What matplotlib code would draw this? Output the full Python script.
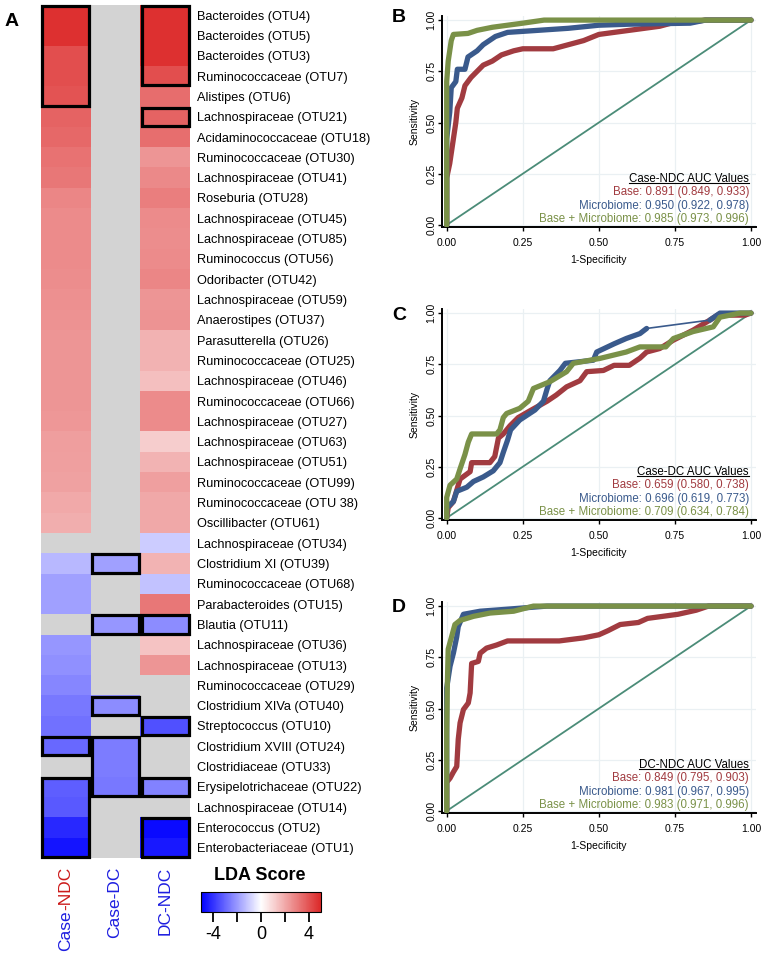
import numpy as np
import matplotlib
matplotlib.use('Agg')
import matplotlib.pyplot as plt
from matplotlib.colors import LinearSegmentedColormap
from matplotlib.patches import Rectangle
from matplotlib.lines import Line2D

plt.rcParams['font.family'] = ['Liberation Sans', 'DejaVu Sans']

W, H = 767, 956

# ---------------- heatmap data ----------------
taxa = ['Bacteroides (OTU4)', 'Bacteroides (OTU5)', 'Bacteroides (OTU3)', 'Ruminococcaceae (OTU7)',
        'Alistipes (OTU6)', 'Lachnospiraceae (OTU21)', 'Acidaminococcaceae (OTU18)',
        'Ruminococcaceae (OTU30)', 'Lachnospiraceae (OTU41)', 'Roseburia (OTU28)',
        'Lachnospiraceae (OTU45)', 'Lachnospiraceae (OTU85)', 'Ruminococcus (OTU56)',
        'Odoribacter (OTU42)', 'Lachnospiraceae (OTU59)', 'Anaerostipes (OTU37)',
        'Parasutterella (OTU26)', 'Ruminococcaceae (OTU25)', 'Lachnospiraceae (OTU46)',
        'Ruminococcaceae (OTU66)', 'Lachnospiraceae (OTU27)', 'Lachnospiraceae (OTU63)',
        'Lachnospiraceae (OTU51)', 'Ruminococcaceae (OTU99)', 'Ruminococcaceae (OTU 38)',
        'Oscillibacter (OTU61)', 'Lachnospiraceae (OTU34)', 'Clostridium XI (OTU39)',
        'Ruminococcaceae (OTU68)', 'Parabacteroides (OTU15)', 'Blautia (OTU11)',
        'Lachnospiraceae (OTU36)', 'Lachnospiraceae (OTU13)', 'Ruminococcaceae (OTU29)',
        'Clostridium XIVa (OTU40)', 'Streptococcus (OTU10)', 'Clostridium XVIII (OTU24)',
        'Clostridiaceae (OTU33)', 'Erysipelotrichaceae (OTU22)', 'Lachnospiraceae (OTU14)',
        'Enterococcus (OTU2)', 'Enterobacteriaceae (OTU1)']

nan = np.nan
lda_case_ndc = [4.77, 4.77, 4.07, 4.07, 3.95, 3.6, 3.5, 3.26, 3.14, 2.8, 2.67, 2.67, 2.67, 2.63,
                2.56, 2.5, 2.45, 2.45, 2.45, 2.45, 2.4, 2.26, 2.22, 2.18, 1.98, 1.86, nan,
                -1.37, -1.86, -1.86, nan, -2.06, -2.16, -2.35, -2.65, -2.75, -2.94, nan,
                -3.14, -3.24, -4.2, -4.6]
lda_case_dc = [nan] * 27 + [-1.86, nan, nan, -2.06, nan, nan, nan, -2.25, nan,
                            -2.55, -2.55, -2.65, nan, nan, nan]
lda_dc_ndc = [4.8, 4.8, 4.8, 4.07, 3.37, 3.6, 3.33, 2.44, 2.72, 3.0, 2.67, 2.63, 2.67, 2.79,
              2.44, 2.49, 1.79, 1.79, 1.47, 2.67, 2.67, 1.16, 1.74, 2.2, 2.02, 2.02, -0.98,
              1.74, -1.18, 3.14, -2.25, 1.4, 2.44, nan, nan, -3.43, nan, nan, -2.45, nan,
              -4.8, -4.5]

# highlighted cells: (column, first row, number of rows)
boxes = [(0, 0, 5), (0, 36, 1), (0, 38, 4),
         (1, 27, 1), (1, 30, 1), (1, 34, 1), (1, 36, 3),
         (2, 0, 4), (2, 5, 1), (2, 30, 1), (2, 35, 1), (2, 38, 1), (2, 40, 2)]

# ---------------- ROC data (fpr, tpr) ----------------
b_base = [(0, 0), (0, 0.23), (0.01, 0.3), (0.02, 0.4), (0.03, 0.5), (0.035, 0.57), (0.05, 0.62),
          (0.06, 0.68), (0.08, 0.72), (0.1, 0.75), (0.12, 0.78), (0.15, 0.8), (0.18, 0.83),
          (0.22, 0.85), (0.25, 0.86), (0.35, 0.86), (0.4, 0.88), (0.45, 0.9), (0.5, 0.93),
          (0.6, 0.95), (0.7, 0.97), (0.75, 0.99), (0.8, 0.99), (0.85, 1.0), (1, 1)]
b_micro = [(0, 0), (0, 0.42), (0.01, 0.55), (0.015, 0.67), (0.03, 0.7), (0.035, 0.76),
           (0.06, 0.76), (0.07, 0.82), (0.1, 0.85), (0.12, 0.88), (0.14, 0.9), (0.16, 0.92),
           (0.2, 0.94), (0.3, 0.95), (0.4, 0.96), (0.5, 0.975), (0.6, 0.98), (0.8, 0.985),
           (0.85, 1.0), (1, 1)]
b_both = [(0, 0), (0, 0.7), (0.005, 0.8), (0.01, 0.85), (0.015, 0.9), (0.022, 0.93),
          (0.07, 0.935), (0.1, 0.95), (0.15, 0.965), (0.2, 0.975), (0.25, 0.985),
          (0.32, 1.0), (1, 1)]

c_base = [(0, 0), (0.005, 0.05), (0.022, 0.08), (0.044, 0.19), (0.077, 0.226), (0.082, 0.27),
          (0.142, 0.27), (0.158, 0.3), (0.17, 0.39), (0.186, 0.41), (0.208, 0.45),
          (0.235, 0.49), (0.27, 0.52), (0.33, 0.57), (0.36, 0.6), (0.394, 0.64), (0.438, 0.67),
          (0.46, 0.714), (0.515, 0.72), (0.55, 0.745), (0.6, 0.745), (0.635, 0.78),
          (0.657, 0.81), (0.7, 0.827), (0.745, 0.868), (0.81, 0.917), (0.865, 0.966),
          (0.89, 0.99), (0.98, 0.99), (1, 1)]
c_micro = [(0, 0), (0, 0.05), (0.022, 0.08), (0.033, 0.13), (0.066, 0.15), (0.088, 0.178),
           (0.12, 0.2), (0.153, 0.23), (0.175, 0.27), (0.186, 0.32), (0.2, 0.38), (0.21, 0.43),
           (0.24, 0.478), (0.29, 0.527), (0.318, 0.57), (0.33, 0.63), (0.339, 0.67),
           (0.372, 0.72), (0.39, 0.755), (0.482, 0.77), (0.493, 0.81), (0.55, 0.85),
           (0.59, 0.876), (0.635, 0.9), (0.657, 0.925), (0.865, 0.966), (0.898, 1.0), (1, 1)]
c_both = [(0, 0), (0, 0.1), (0.011, 0.16), (0.033, 0.19), (0.044, 0.24), (0.06, 0.31),
          (0.071, 0.37), (0.082, 0.41), (0.164, 0.41), (0.175, 0.43), (0.186, 0.49),
          (0.197, 0.51), (0.24, 0.535), (0.268, 0.57), (0.285, 0.632), (0.339, 0.665),
          (0.394, 0.714), (0.416, 0.755), (0.504, 0.779), (0.59, 0.81), (0.635, 0.835),
          (0.72, 0.835), (0.745, 0.876), (0.81, 0.91), (0.876, 0.933), (0.898, 0.98),
          (0.964, 1.0), (1, 1)]

d_base = [(0, 0), (0, 0.14), (0.011, 0.16), (0.022, 0.19), (0.033, 0.217), (0.038, 0.35),
          (0.044, 0.43), (0.055, 0.495), (0.071, 0.527), (0.077, 0.576), (0.082, 0.72),
          (0.104, 0.73), (0.11, 0.77), (0.131, 0.795), (0.164, 0.81), (0.2, 0.83),
          (0.37, 0.83), (0.45, 0.845), (0.5, 0.86), (0.53, 0.88), (0.57, 0.91), (0.63, 0.92),
          (0.66, 0.94), (0.76, 0.96), (0.82, 0.98), (0.86, 1.0), (1, 1)]
d_micro = [(0, 0), (0, 0.6), (0.011, 0.706), (0.022, 0.77), (0.033, 0.85), (0.038, 0.9),
           (0.055, 0.96), (0.11, 0.975), (0.2, 0.985), (0.33, 1.0), (1, 1)]
d_both = [(0, 0), (0, 0.38), (0.002, 0.61), (0.005, 0.79), (0.016, 0.85), (0.027, 0.91),
          (0.044, 0.93), (0.088, 0.95), (0.142, 0.966), (0.22, 0.975), (0.285, 1.0), (1, 1)]

# segments with no ROC points between them (drawn as a thin connector): curve -> segment index
c_micro_thin = [24]

auc_b = ['Base: 0.891 (0.849, 0.933)', 'Microbiome: 0.950 (0.922, 0.978)',
         'Base + Microbiome: 0.985 (0.973, 0.996)']
auc_c = ['Base: 0.659 (0.580, 0.738)', 'Microbiome: 0.696 (0.619, 0.773)',
         'Base + Microbiome: 0.709 (0.634, 0.784)']
auc_d = ['Base: 0.849 (0.795, 0.903)', 'Microbiome: 0.981 (0.967, 0.995)',
         'Base + Microbiome: 0.983 (0.971, 0.996)']

roc_colors = ['#A13B40', '#3A5A8C', '#7A9148']
diag_color = '#4B8C78'
txt_red = '#CC1A1A'
txt_blue = '#1E1EE0'


fig = plt.figure(figsize=(W / 100, H / 100), dpi=100)


def px_axes(x0, y0, x1, y1):
    return fig.add_axes([x0 / W, 1 - y1 / H, (x1 - x0) / W, (y1 - y0) / H])


# ---------------- panel A ----------------
cmap = LinearSegmentedColormap.from_list('lda', [(0, '#0000FF'), (0.5, '#FFFFFF'), (1, '#DC2828')])
cmap.set_bad('#D3D3D3')
grid = np.ma.masked_invalid(np.column_stack([lda_case_ndc, lda_case_dc, lda_dc_ndc]))

ax = px_axes(41, 5, 190, 858)
im = ax.imshow(grid, aspect='auto', cmap=cmap, vmin=-5, vmax=5, interpolation='nearest')
for col, r0, n in boxes:
    ax.add_patch(Rectangle((col - 0.5 + 0.03, r0 - 0.5 + 0.05), 0.94, n - 0.1, fill=False,
                           edgecolor='black', lw=2.3, clip_on=False, zorder=3))
ax.set_xticks([])
ax.set_yticks(range(len(taxa)))
ax.set_yticklabels(taxa, fontsize=9.2)
ax.yaxis.tick_right()
ax.tick_params(axis='y', length=0, pad=5)
for s in ax.spines.values():
    s.set_visible(False)

fig.text(12 / W, 1 - 22 / H, 'A', fontsize=14, weight='bold', ha='center', va='center')

# column labels (rotated, two colours)
col_x = [65.5, 115, 165]
top_lab = fig.text(col_x[0] / W, 1 - 867 / H, '-NDC', rotation=90, ha='center', va='top',
                   color=txt_red, fontsize=12.5)
ax.annotate('Case', xy=(0.5, 0), xycoords=top_lab, ha='center', va='top', rotation=90,
            color=txt_blue, fontsize=12.5, annotation_clip=False)
fig.text(col_x[1] / W, 1 - 867 / H, 'Case-DC', rotation=90, ha='center', va='top',
         color=txt_blue, fontsize=12.5)
fig.text(col_x[2] / W, 1 - 867 / H, 'DC-NDC', rotation=90, ha='center', va='top',
         color=txt_blue, fontsize=12.5)

# colour bar
cax = px_axes(201, 892, 321, 912)
cb = fig.colorbar(im, cax=cax, orientation='horizontal')
cb.set_ticks([-4, -2, 0, 2, 4])
cb.set_ticklabels(['-4', '', '0', '', '4'])
cb.ax.tick_params(length=7, width=1.3, labelsize=13, pad=3, color='black')
cb.outline.set_linewidth(0.8)
fig.text(260 / W, 1 - 876 / H, 'LDA Score', fontsize=13, weight='bold', ha='center', va='center')

# ---------------- ROC panels ----------------
ticks = [0, 0.25, 0.5, 0.75, 1.0]
tick_labels = ['0.00', '0.25', '0.50', '0.75', '1.00']
underlines = []


def draw_curve(a, pts, c, thin=()):
    x = np.array([p[0] for p in pts])
    y = np.array([p[1] for p in pts])
    a.plot(x, y, color=c, lw=1.2, zorder=3)
    start = 0
    for i in list(thin) + [len(pts) - 1]:
        if i > start:
            a.plot(x[start:i + 1], y[start:i + 1], color=c, lw=3.8,
                   solid_joinstyle='round', solid_capstyle='round', zorder=3)
        start = i + 1


def roc_panel(top, bottom, curves, title, aucs, letter, letter_y, thin=((), (), ())):
    a = px_axes(441.7, top, 756, bottom)
    a.set_xlim(-0.0164, 1.0164)
    a.set_ylim(-0.01, 1.02)
    a.set_xticks(ticks)
    a.set_yticks(ticks)
    a.set_xticklabels(tick_labels, fontsize=7.5)
    a.set_yticklabels(tick_labels, fontsize=7.5)
    for lab in a.get_yticklabels():
        lab.set_rotation(90)
        lab.set_va('center')
    a.tick_params(length=3, width=1, pad=1)
    a.tick_params(axis='x', pad=5)
    a.grid(color='#EAF0F3', lw=0.9)
    a.set_axisbelow(True)
    for s in ['top', 'right']:
        a.spines[s].set_visible(False)
    for s in ['left', 'bottom']:
        a.spines[s].set_linewidth(1.4)
    a.plot([0, 1], [0, 1], color=diag_color, lw=1.3, zorder=2)
    for pts, c, th in zip(curves, roc_colors, thin):
        draw_curve(a, pts, c, th)
    a.text(0.5, -0.158, '1-Specificity', transform=a.transAxes, ha='center', va='center',
           fontsize=7.5)
    a.text(-0.086, 0.5, 'Sensitivity', transform=a.transAxes, ha='center', va='center',
           rotation=90, fontsize=7.5)
    t = a.text(0.993, 0.225, title, ha='right', va='center', fontsize=8.3, color='black', zorder=5)
    underlines.append(t)
    for txt, yy, c in zip(aucs, [0.162, 0.092, 0.029], roc_colors):
        a.text(0.993, yy, txt, ha='right', va='center', fontsize=8.3, color=c, zorder=5)
    fig.text(399 / W, 1 - letter_y / H, letter, fontsize=14, weight='bold', ha='center',
             va='center')


roc_panel(16, 227, [b_base, b_micro, b_both], 'Case-NDC AUC Values', auc_b, 'B', 18)
roc_panel(309, 520, [c_base, c_micro, c_both], 'Case-DC AUC Values', auc_c, 'C', 315,
          thin=((), c_micro_thin, ()))
roc_panel(602, 813, [d_base, d_micro, d_both], 'DC-NDC AUC Values', auc_d, 'D', 608)

fig.canvas.draw()
renderer = fig.canvas.get_renderer()
for t in underlines:
    bb = t.get_window_extent(renderer)
    y = bb.y0 + 1.5
    fig.add_artist(Line2D([bb.x0 / W, bb.x1 / W], [y / H, y / H], transform=fig.transFigure,
                          color='black', lw=0.8))

fig.savefig('out.png', dpi=100)
